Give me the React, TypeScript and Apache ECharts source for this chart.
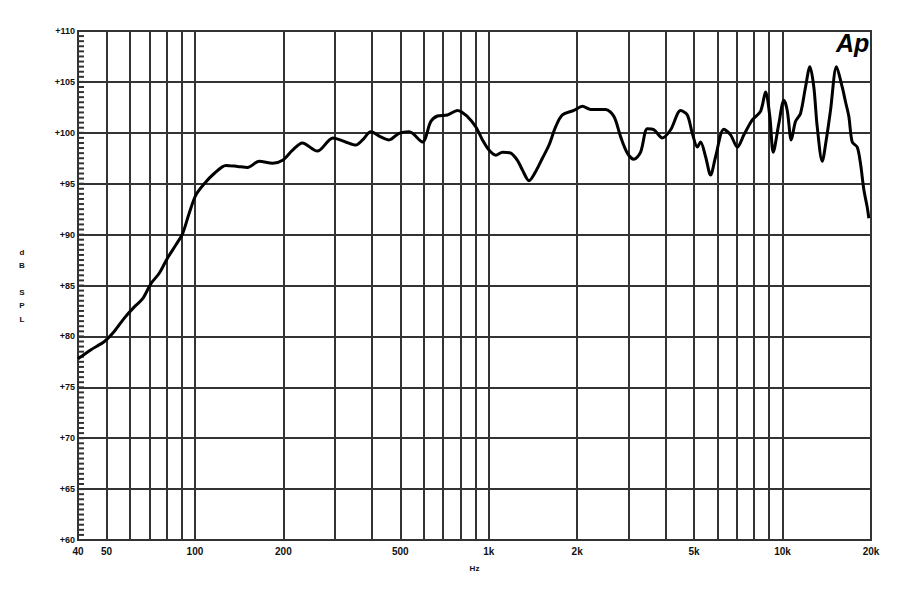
import React, { useEffect, useRef } from "react";
import * as echarts from "echarts";

const freqHz = [
  40, 44.3, 49.2, 53.2, 57.5, 62.2, 66.4, 70.9, 75.6, 80.7, 86.2, 90.8, 95.6, 100.8, 107.6, 116.3,
  127.5, 139.6, 151, 165.5, 183.8, 198.8, 215, 232, 261, 295, 326, 353, 372, 397, 429, 458, 495,
  536, 595, 635, 669, 724, 783, 846, 903, 952, 1002, 1057, 1114, 1188, 1252, 1302, 1371, 1445,
  1523, 1604, 1690, 1781, 1950, 2084, 2224, 2373, 2500, 2668, 2812, 2964, 3120, 3288, 3466, 3650,
  3896, 4160, 4500, 4741, 4930, 5128, 5261, 5471, 5690, 5917, 6312, 6655, 7016, 7388, 7880, 8416,
  8753, 9052, 9297, 9713, 10105, 10375, 10708, 11067, 11511, 11973, 12388, 12777, 13120, 13648,
  14116, 14561, 15264, 15960, 16378, 16812, 17261, 17947, 18415, 18913, 19412, 19664,
];
const splDb = [
  77.8, 78.7, 79.5, 80.5, 81.8, 82.9, 83.7, 85.2, 86.2, 87.7, 89.0, 90.1, 92.1, 93.9, 95.0, 96.0,
  96.8, 96.7, 96.6, 97.2, 97.0, 97.3, 98.3, 99.0, 98.2, 99.5, 99.1, 98.8, 99.3, 100.1, 99.6, 99.3, 99.95,
  100.1, 99.1, 101.1, 101.65, 101.75, 102.2, 101.6, 100.6, 99.3, 98.3, 97.8, 98.1, 98.0, 97.3, 96.35, 95.3, 96.2,
  97.5, 98.8, 100.6, 101.75, 102.2, 102.6, 102.3, 102.3, 102.3, 101.6, 99.6, 98.0, 97.4, 98.1, 100.4, 100.3,
  99.5, 100.3, 102.2, 101.75, 99.95, 98.6, 99.1, 97.65, 95.85, 97.65, 100.35, 99.8, 98.6, 99.8, 101.25, 102.1,
  104.0, 101.6, 98.1, 100.9, 103.2, 102.2, 99.3, 101.1, 101.9, 104.5, 106.5, 104.5, 100.6, 97.2,
  99.5, 102.2, 106.5, 104.5, 103.05, 101.6, 99.1, 98.6, 97.0, 94.4, 92.7, 91.6,
];

const gridFreqs = [
  50, 60, 70, 80, 90, 100, 200, 300, 400, 500, 600, 700, 800, 900, 1000, 2000, 3000, 4000, 5000,
  6000, 7000, 8000, 9000, 10000,
];
const xLabelValues = [40, 50, 100, 200, 500, 1000, 2000, 5000, 10000, 20000];
const xLabelTexts = ["40", "50", "100", "200", "500", "1k", "2k", "5k", "10k", "20k"];

// minor tick positions on the dB axis (every 0.5 dB from 60 to 110)
const minorTickDb: number[] = [];
for (let k = 0; k <= 100; k++) minorTickDb.push(60 + k * 0.5);

export default function App() {
  const ref = useRef<HTMLDivElement>(null);
  useEffect(() => {
    if (!ref.current) return;
    const chart = echarts.init(ref.current, null, { renderer: "svg" });
    const font = "Liberation Sans";
    chart.setOption({
      animation: false,
      backgroundColor: "#ffffff",
      grid: {
        left: 78,
        right: 29,
        top: 31,
        bottom: 60,
        show: true,
        borderColor: "#333",
        borderWidth: 2,
        backgroundColor: "transparent",
      },
      xAxis: {
        type: "log",
        logBase: 10,
        min: 40,
        max: 20000,
        name: "Hz",
        nameLocation: "middle",
        nameGap: 24,
        nameTextStyle: { fontFamily: font, fontWeight: "bold", fontSize: 8, color: "#111" },
        axisLine: { show: true, lineStyle: { color: "#333", width: 2 } },
        axisTick: { show: false },
        splitLine: { show: false },
        minorTick: { show: false },
        minorSplitLine: { show: false },
        axisLabel: {
          customValues: xLabelValues,
          showMinLabel: true,
          showMaxLabel: true,
          margin: 6,
          fontFamily: font,
          fontWeight: "bold",
          fontSize: 10,
          color: "#111",
          formatter: (v: number) => {
            const i = xLabelValues.findIndex((x) => Math.abs(x - v) / x < 0.01);
            return i >= 0 ? xLabelTexts[i] : "";
          },
        },
      },
      yAxis: {
        type: "value",
        min: 60,
        max: 110,
        interval: 5,
        name: "d\nB\n\nS\nP\nL",
        nameLocation: "middle",
        nameRotate: 0,
        nameGap: 56,
        nameTextStyle: {
          fontFamily: font,
          fontWeight: "bold",
          fontSize: 8,
          lineHeight: 13.4,
          color: "#111",
          align: "center",
        },
        axisLine: { show: true, lineStyle: { color: "#333", width: 2 } },
        axisTick: { show: false },
        splitLine: { show: true, lineStyle: { color: "#333", width: 2 } },
        axisLabel: {
          margin: 3,
          fontFamily: font,
          fontWeight: "bold",
          fontSize: 9,
          color: "#111",
          formatter: (v: number) => "+" + v,
        },
      },
      graphic: [
        {
          type: "text",
          left: 836,
          top: 30,
          style: {
            text: "Ap",
            font: "italic bold 25px Liberation Sans",
            fill: "#000",
          },
        },
      ],
      series: [
        {
          type: "custom",
          silent: true,
          clip: false,
          data: minorTickDb.map((v) => [xLabelValues[0], v]),
          renderItem: (params: any, api: any) => {
            const p = api.coord([api.value(0), api.value(1)]);
            return {
              type: "line",
              shape: { x1: p[0], y1: p[1], x2: p[0] + 6, y2: p[1] },
              style: { stroke: "#333", lineWidth: 2, fill: null },
            };
          },
          z: 3,
        },
        {
          type: "line",
          data: freqHz.map((f, i) => [f, splDb[i]]),
          showSymbol: false,
          smooth: 0.3,
          lineStyle: { color: "#000", width: 3 },
          z: 5,
          markLine: {
            silent: true,
            symbol: "none",
            label: { show: false },
            lineStyle: { color: "#333", width: 2, type: "solid" },
            data: gridFreqs.map((f) => ({ xAxis: f })),
            z: 2,
          },
        },
      ],
    });
    return () => chart.dispose();
  }, []);
  return <div ref={ref} style={{ width: 900, height: 600, margin: -8 }} />;
}
